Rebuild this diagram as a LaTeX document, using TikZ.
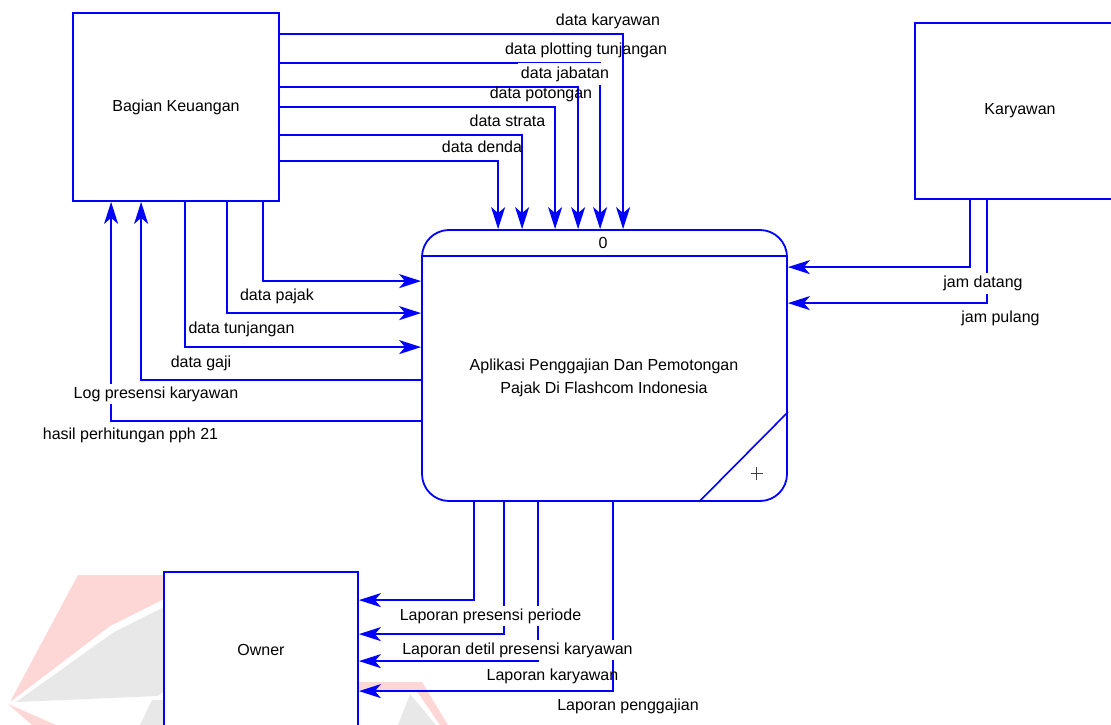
\documentclass[tikz,border=0pt]{standalone}
\usepackage{fontspec}
\setmainfont{Liberation Sans}
\usetikzlibrary{arrows.meta,calc}
\definecolor{flowblue}{RGB}{0,0,255}
\definecolor{markred}{RGB}{253,214,214}
\definecolor{markgray}{RGB}{232,232,232}

\begin{document}
\begin{tikzpicture}[x=1pt,y=-1pt,
  every node/.style={font=\fontsize{16}{23}\selectfont},
  entity/.style={draw=flowblue,line width=1.8pt,fill=white,inner sep=0pt},
  edge line/.style={draw=flowblue,line width=1.9pt},
  flow/.style={edge line,-{Stealth[length=22pt,width=14pt,inset=6pt]}},
  lbl/.style={inner sep=2pt},
  lblw/.style={fill=white,inner sep=3pt},
]
\clip (0,0) rectangle (1111,725);

% faint logo watermark in the lower part
\fill[markred] (78,575) -- (166,575) -- (166,598) -- (110,626) -- (10,702) -- cycle;
\fill[markgray] (166,606) -- (114,632) -- (16,702) -- (158,696) -- (166,690) -- cycle;
\fill[markred] (8,704) -- (56,725) -- (32,725) -- cycle;
\fill[markgray] (140,725) -- (152,700) -- (166,700) -- (166,725) -- cycle;
\fill[markred] (358,682) -- (422,682) -- (448,725) -- (440,725) -- (416,690) -- (358,690) -- cycle;
\fill[markgray] (410,694) -- (436,725) -- (398,725) -- cycle;

% external entities
\node[entity,minimum width=206pt,minimum height=188pt] (bk) at (176,107) {Bagian Keuangan};
\node[entity,minimum width=210pt,minimum height=176pt] (kar) at (1020,111) {Karyawan};
\node[entity,minimum width=194pt,minimum height=156pt] (own) at (261,650) {Owner};

% process 0
\node[entity,rounded corners=27pt,minimum width=365pt,minimum height=271pt] (proc) at (604.5,365.5) {};
\draw[edge line,line width=1.6pt] ($(proc.north west)+(0,27)$) -- ($(proc.north east)+(0,27)$);
\draw[edge line,line width=1.6pt] ($(proc.north east)+(0,183)$) -- ($(proc.south east)+(-89,0)$);
\node (pnum) at (603,243) {0};
\node[align=center] (ptitle) at (604,378) {Aplikasi Penggajian Dan Pemotongan\\Pajak Di Flashcom Indonesia};
\draw[line width=0.8pt,black!75] (750.5,473.3) -- (763,473.3) (756.7,467) -- (756.7,479.6);

% Bagian Keuangan -> process (top side)
\draw[flow] ($(bk.north east)+(0,22)$)  -| ($(proc.north west)+(202,0)$);
\draw[flow] ($(bk.north east)+(0,51)$)  -| ($(proc.north west)+(179,0)$);
\draw[flow] ($(bk.north east)+(0,75)$)  -| ($(proc.north west)+(157,0)$);
\draw[flow] ($(bk.north east)+(0,95)$)  -| ($(proc.north west)+(134,0)$);
\draw[flow] ($(bk.north east)+(0,123)$) -| ($(proc.north west)+(101,0)$);
\draw[flow] ($(bk.north east)+(0,149)$) -| ($(proc.north west)+(77,0)$);

% Bagian Keuangan <-> process (left side)
\draw[flow] ($(bk.south west)+(191,0)$) |- ($(proc.north west)+(0,52)$);
\draw[flow] ($(bk.south west)+(155,0)$) |- ($(proc.north west)+(0,84)$);
\draw[flow] ($(bk.south west)+(113,0)$) |- ($(proc.north west)+(0,118)$);
\draw[flow] ($(proc.north west)+(0,151)$) -| ($(bk.south west)+(69,0)$);
\draw[flow] ($(proc.north west)+(0,192)$) -| ($(bk.south west)+(39,0)$);

% Karyawan -> process
\draw[flow] ($(kar.south west)+(56,0)$) |- ($(proc.north east)+(0,38)$);
\draw[flow] ($(kar.south west)+(73,0)$) |- ($(proc.north east)+(0,74)$);

% process -> Owner
\draw[flow] ($(proc.south west)+(53,0)$)  |- ($(own.north east)+(0,29)$);
\draw[flow] ($(proc.south west)+(83,0)$)  |- ($(own.north east)+(0,63)$);
\draw[flow] ($(proc.south west)+(117,0)$) |- ($(own.north east)+(0,90)$);
\draw[flow] ($(proc.south west)+(192,0)$) |- ($(own.north east)+(0,120)$);

% flow labels
\node[lbl] (l1) at (608,21) {data karyawan};
\node[lbl] (l2) at (586,50) {data plotting tunjangan};
\node[lblw,inner ysep=4pt] (l3) at (565,74) {data jabatan};
\node[lbl] (l4) at (541,94) {data potongan};
\node[lbl] (l5) at (507.5,121) {data strata};
\node[lbl] (l6) at (482,147) {data denda};
\node[lbl] (l7) at (277,296.5) {data pajak};
\node[lbl] (l8) at (241.5,329) {data tunjangan};
\node[lbl] (l9) at (201,363.5) {data gaji};
\node[lblw] (l10) at (156,394) {Log presensi karyawan};
\node[lbl] (l11) at (130.5,435) {hasil perhitungan pph 21};
\node[lblw] (l12) at (983,283.5) {jam datang};
\node[lbl] (l13) at (1000.5,318.7) {jam pulang};
\node[lblw] (l14) at (490.5,616) {Laporan presensi periode};
\node[lblw] (l15) at (517.5,650) {Laporan detil presensi karyawan};
\node[lbl] (l16) at (552.5,676.7) {Laporan karyawan};
\node[lbl] (l17) at (628,706.5) {Laporan penggajian};
\end{tikzpicture}
\end{document}
